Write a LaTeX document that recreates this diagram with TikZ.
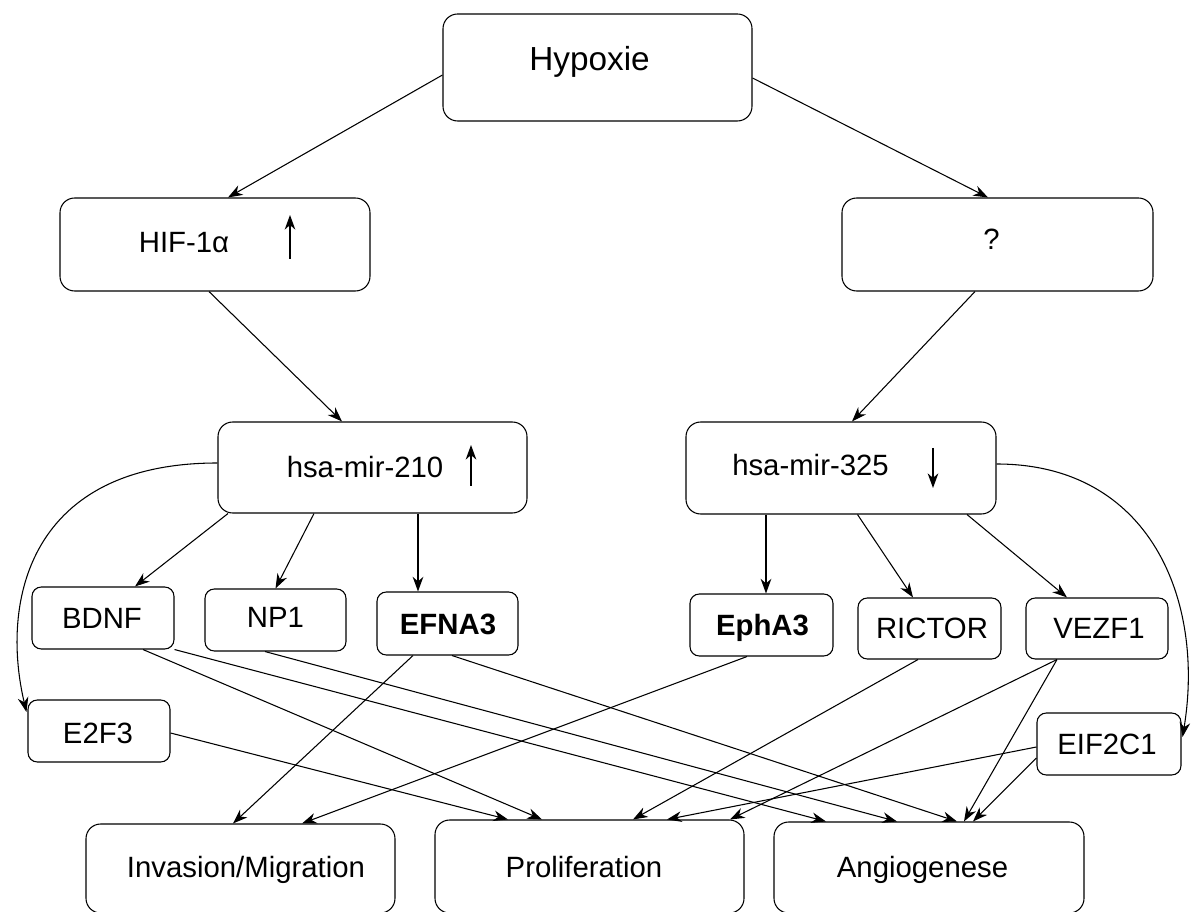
\documentclass[tikz,border=0pt]{standalone}
\usepackage{fontspec}
\setmainfont{Liberation Sans}
\usetikzlibrary{arrows.meta,calc}
\tikzset{
  bigbox/.style={draw, rounded corners=11pt, inner sep=0pt, line width=0.8pt},
  smallbox/.style={draw, rounded corners=7pt, inner sep=0pt, line width=0.8pt},
  sz/.style 2 args={minimum width={(#1)*0.75pt}, minimum height={(#2)*0.75pt}},
  lbl/.style={anchor=base, inner sep=0pt, font=\fontsize{22}{26}\selectfont},
  tipA/.tip={Stealth[length=11pt, width=8pt, inset=3.5pt]},
  arr/.style={line width=0.8pt, -tipA},
}
\begin{document}
\begin{tikzpicture}[x=0.75pt,y=-0.75pt]
\useasboundingbox (0,0) rectangle (1197,912);
\fill[white] (0,0) rectangle (1197,912);
\clip (0,0) rectangle (1197,912);

% boxes
\node[bigbox, sz={309}{107}] (hyp) at (597.5,67.5) {};
\node[bigbox, sz={310}{93}] (hif) at (215,244.5) {};
\node[bigbox, sz={311}{93}] (q) at (997.5,244.5) {};
\node[bigbox, sz={309}{91}] (m210) at (372.5,467.5) {};
\node[bigbox, sz={310}{92}] (m325) at (841,468) {};
\node[smallbox, sz={142}{62}] (bdnf) at (103,618) {};
\node[smallbox, sz={141}{62}] (np1) at (275.5,620) {};
\node[smallbox, sz={141}{63}] (efna3) at (447.5,623.5) {};
\node[smallbox, sz={143}{62}] (epha3) at (761.5,625) {};
\node[smallbox, sz={143}{61}] (rictor) at (929.5,628.5) {};
\node[smallbox, sz={142}{61}] (vezf1) at (1097,628.5) {};
\node[smallbox, sz={142}{62}] (e2f3) at (99,731) {};
\node[smallbox, sz={144}{62}] (eif2c1) at (1109,744) {};
\node[bigbox, sz={309}{89}] (inv) at (240.5,868.5) {};
\node[bigbox, sz={309}{93}] (prolif) at (589.5,866.5) {};
\node[bigbox, sz={310}{91}] (angio) at (929,867.5) {};

% texts
\node[lbl, font=\fontsize{25}{30}\selectfont] (thyp) at (589.5,71) {Hypoxie};
\node[lbl] (thif) at (184,252.5) {HIF-1α};
\node[lbl] (tq) at (991.5,250) {?};
\node[lbl] (tm210) at (365,478) {hsa-mir-210};
\node[lbl] (tm325) at (810.5,476) {hsa-mir-325};
\node[lbl] (tbdnf) at (102,629) {BDNF};
\node[lbl] (tnp1) at (275.5,628) {NP1};
\node[lbl, font=\fontsize{22}{26}\selectfont\bfseries] (tefna3) at (448,635) {EFNA3};
\node[lbl, font=\fontsize{22}{26}\selectfont\bfseries] (tepha3) at (762.5,636) {EphA3};
\node[lbl] (trictor) at (932,639) {RICTOR};
\node[lbl] (tvezf1) at (1099,639) {VEZF1};
\node[lbl] (te2f3) at (98,744) {E2F3};
\node[lbl] (teif2c1) at (1107,755) {EIF2C1};
\node[lbl] (tinv) at (246,877) {Invasion/Migration};
\node[lbl] (tprolif) at (584,877) {Proliferation};
\node[lbl] (tangio) at (922.5,877) {Angiogenese};

% up/down arrows inside boxes
\coordinate (hifa1) at (290,259);
\coordinate (hifa2) at (290,215);
\draw[arr] (hifa1) -- (hifa2);
\coordinate (m210a1) at (471,486);
\coordinate (m210a2) at (471,445);
\draw[arr] (m210a1) -- (m210a2);
\coordinate (m325a1) at (933,448);
\coordinate (m325a2) at (933,488);
\draw[arr] (m325a1) -- (m325a2);

% connectors
\draw[arr] ($(hyp.west)+(0,7.5)$) -- ($(hif.north)+(13,0)$);
\draw[arr] ($(hyp.east)+(0,10.5)$) -- ($(q.north)+(-9.5,0)$);
\draw[arr] ($(hif.south)+(-6,0)$) -- ($(m210.north)+(-30.5,0)$);
\draw[arr] ($(q.south)+(-22.5,0)$) -- ($(m325.north)+(11,0)$);
\draw[arr] ($(m210.south)+(-144.5,0)$) -- ($(bdnf.north)+(32,0)$);
\draw[arr] ($(m210.south)+(-58.5,0)$) -- (np1.north);
\draw[arr] ($(m210.south)+(45.5,0)$) -- ($(efna3.north)+(-29.5,0)$);
\draw[arr] ($(m325.south)+(-75,0)$) -- ($(epha3.north)+(4.5,0)$);
\draw[arr] ($(m325.south)+(16.5,0)$) -- ($(rictor.north)+(-16.5,0)$);
\draw[arr] ($(m325.south)+(126,0)$) -- ($(vezf1.north)+(-30,0)$);
\draw[arr] ($(m210.west)+(0,-4.5)$) .. controls (30,463) and (0,600) .. ($(e2f3.west)+(-1,-19)$);
\draw[arr] ($(m325.east)+(0,-4)$) .. controls (1150,464) and (1205,600) .. ($(eif2c1.east)+(1,-7)$);

\draw[arr] ($(bdnf.south)+(40,0)$) -- ($(prolif.north)+(-47.5,0)$);
\draw[arr] (bdnf.south east) -- ($(angio.north)+(-103,0)$);
\draw[arr] ($(np1.south)+(-10.5,0)$) -- ($(angio.north)+(-32,0)$);
\draw[arr] ($(efna3.south)+(-34.5,0)$) -- ($(inv.north)+(-7.5,0)$);
\draw[arr] ($(efna3.south)+(4.5,0)$) -- ($(angio.north)+(28,0)$);
\draw[arr] ($(e2f3.east)+(0,2)$) -- ($(prolif.north)+(-81.5,0)$);
\draw[arr] ($(epha3.south)+(-14.5,0)$) -- ($(inv.north)+(61.5,0)$);
\draw[arr] ($(rictor.south)+(-11.5,0)$) -- ($(prolif.north)+(43.5,0)$);
\draw[arr] ($(vezf1.south)+(-40,0)$) -- ($(prolif.north)+(140.5,0)$);
\draw[arr] ($(vezf1.south)+(-40,0)$) -- ($(angio.north)+(35,0)$);
\draw[arr] ($(eif2c1.west)+(0,3)$) -- ($(prolif.north)+(77.5,0)$);
\draw[arr] ($(eif2c1.west)+(0,14)$) -- ($(angio.north)+(44,0)$);
\end{tikzpicture}
\end{document}
